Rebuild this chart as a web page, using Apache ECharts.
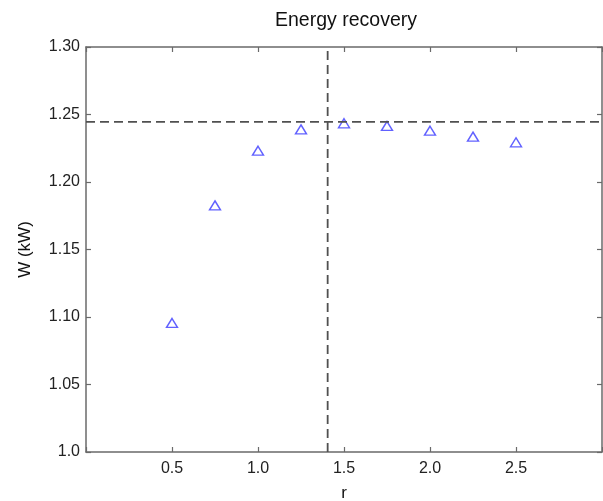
<!DOCTYPE html>
<html>
<head>
<meta charset="utf-8">
<script src="https://cdn.jsdelivr.net/npm/echarts@6/dist/echarts.min.js"></script>
<style>html,body{margin:0;padding:0;background:#fff}#c{width:603px;height:501px}</style>
</head>
<body>
<div id="c"></div>
<script>
const rValues = [0.5, 0.75, 1.0, 1.25, 1.5, 1.75, 2.0, 2.25, 2.5];
const wValues = [1.0956, 1.1827, 1.2232, 1.239, 1.2435, 1.2415, 1.238, 1.2336, 1.2294];
const optimumR = [1.405];
const maxW = [1.2445];
const xRange = [0, 3];
const yRange = [1.0, 1.3];
const titleText = 'Energy recovery';
const xName = 'r';
const yName = 'W (kW)';

const FONT = '"Liberation Sans", Arial, sans-serif';
const axisCol = '#6a6a6a';
const chart = echarts.init(document.getElementById('c'));
const baseAxis = {
  axisLine: {show: true, onZero: false, lineStyle: {color: axisCol, width: 1.5}},
  axisTick: {show: true, inside: true, length: 5, lineStyle: {color: axisCol, width: 1.2}},
  splitLine: {show: false}
};
const dashStyle = {color: '#505050', type: [9, 5], width: 1.8};
chart.setOption({
  animation: false,
  title: {text: titleText, left: 270, top: 6,
    textStyle: {fontFamily: FONT, fontWeight: 'normal', fontSize: 19.5, color: '#111'}},
  grid: {left: 86, right: 1, top: 47, bottom: 49, outerBoundsMode: 'none', containLabel: false},
  xAxis: [
    Object.assign({}, baseAxis, {type: 'value', min: xRange[0], max: xRange[1], interval: 0.5, position: 'bottom',
      name: xName, nameLocation: 'middle', nameGap: 33,
      nameTextStyle: {fontFamily: FONT, fontSize: 17, color: '#111'},
      axisLabel: {margin: 9, fontFamily: FONT, fontSize: 16, color: '#222',
        formatter: v => (v === 0 || v === 3) ? '' : v.toFixed(1)}}),
    Object.assign({}, baseAxis, {type: 'value', min: xRange[0], max: xRange[1], interval: 0.5, position: 'top',
      axisLabel: {show: false}})
  ],
  yAxis: [
    Object.assign({}, baseAxis, {type: 'value', min: yRange[0], max: yRange[1], interval: 0.05, position: 'left',
      name: yName, nameLocation: 'middle', nameGap: 52, nameRotate: 90,
      nameTextStyle: {fontFamily: FONT, fontSize: 17, color: '#111'},
      axisLabel: {margin: 6, fontFamily: FONT, fontSize: 16, color: '#222',
        formatter: v => Math.abs(v - 1) < 1e-9 ? '1.0' : v.toFixed(2)}}),
    Object.assign({}, baseAxis, {type: 'value', min: yRange[0], max: yRange[1], interval: 0.05, position: 'right',
      axisLabel: {show: false}})
  ],
  series: [
    {
      type: 'line', symbol: 'none', silent: true,
      data: [[optimumR[0], yRange[0]], [optimumR[0], yRange[1]]],
      lineStyle: dashStyle
    },
    {
      type: 'line', symbol: 'none', silent: true,
      data: [[xRange[0], maxW[0]], [xRange[1], maxW[0]]],
      lineStyle: dashStyle
    },
    {
      type: 'scatter',
      data: rValues.map((r, i) => [r, wValues[i]]),
      symbol: 'triangle',
      symbolSize: [11, 9],
      itemStyle: {color: 'rgba(0,0,0,0)', borderColor: '#3a3aff', borderWidth: 1.4}
    }
  ]
});
</script>
</body>
</html>
